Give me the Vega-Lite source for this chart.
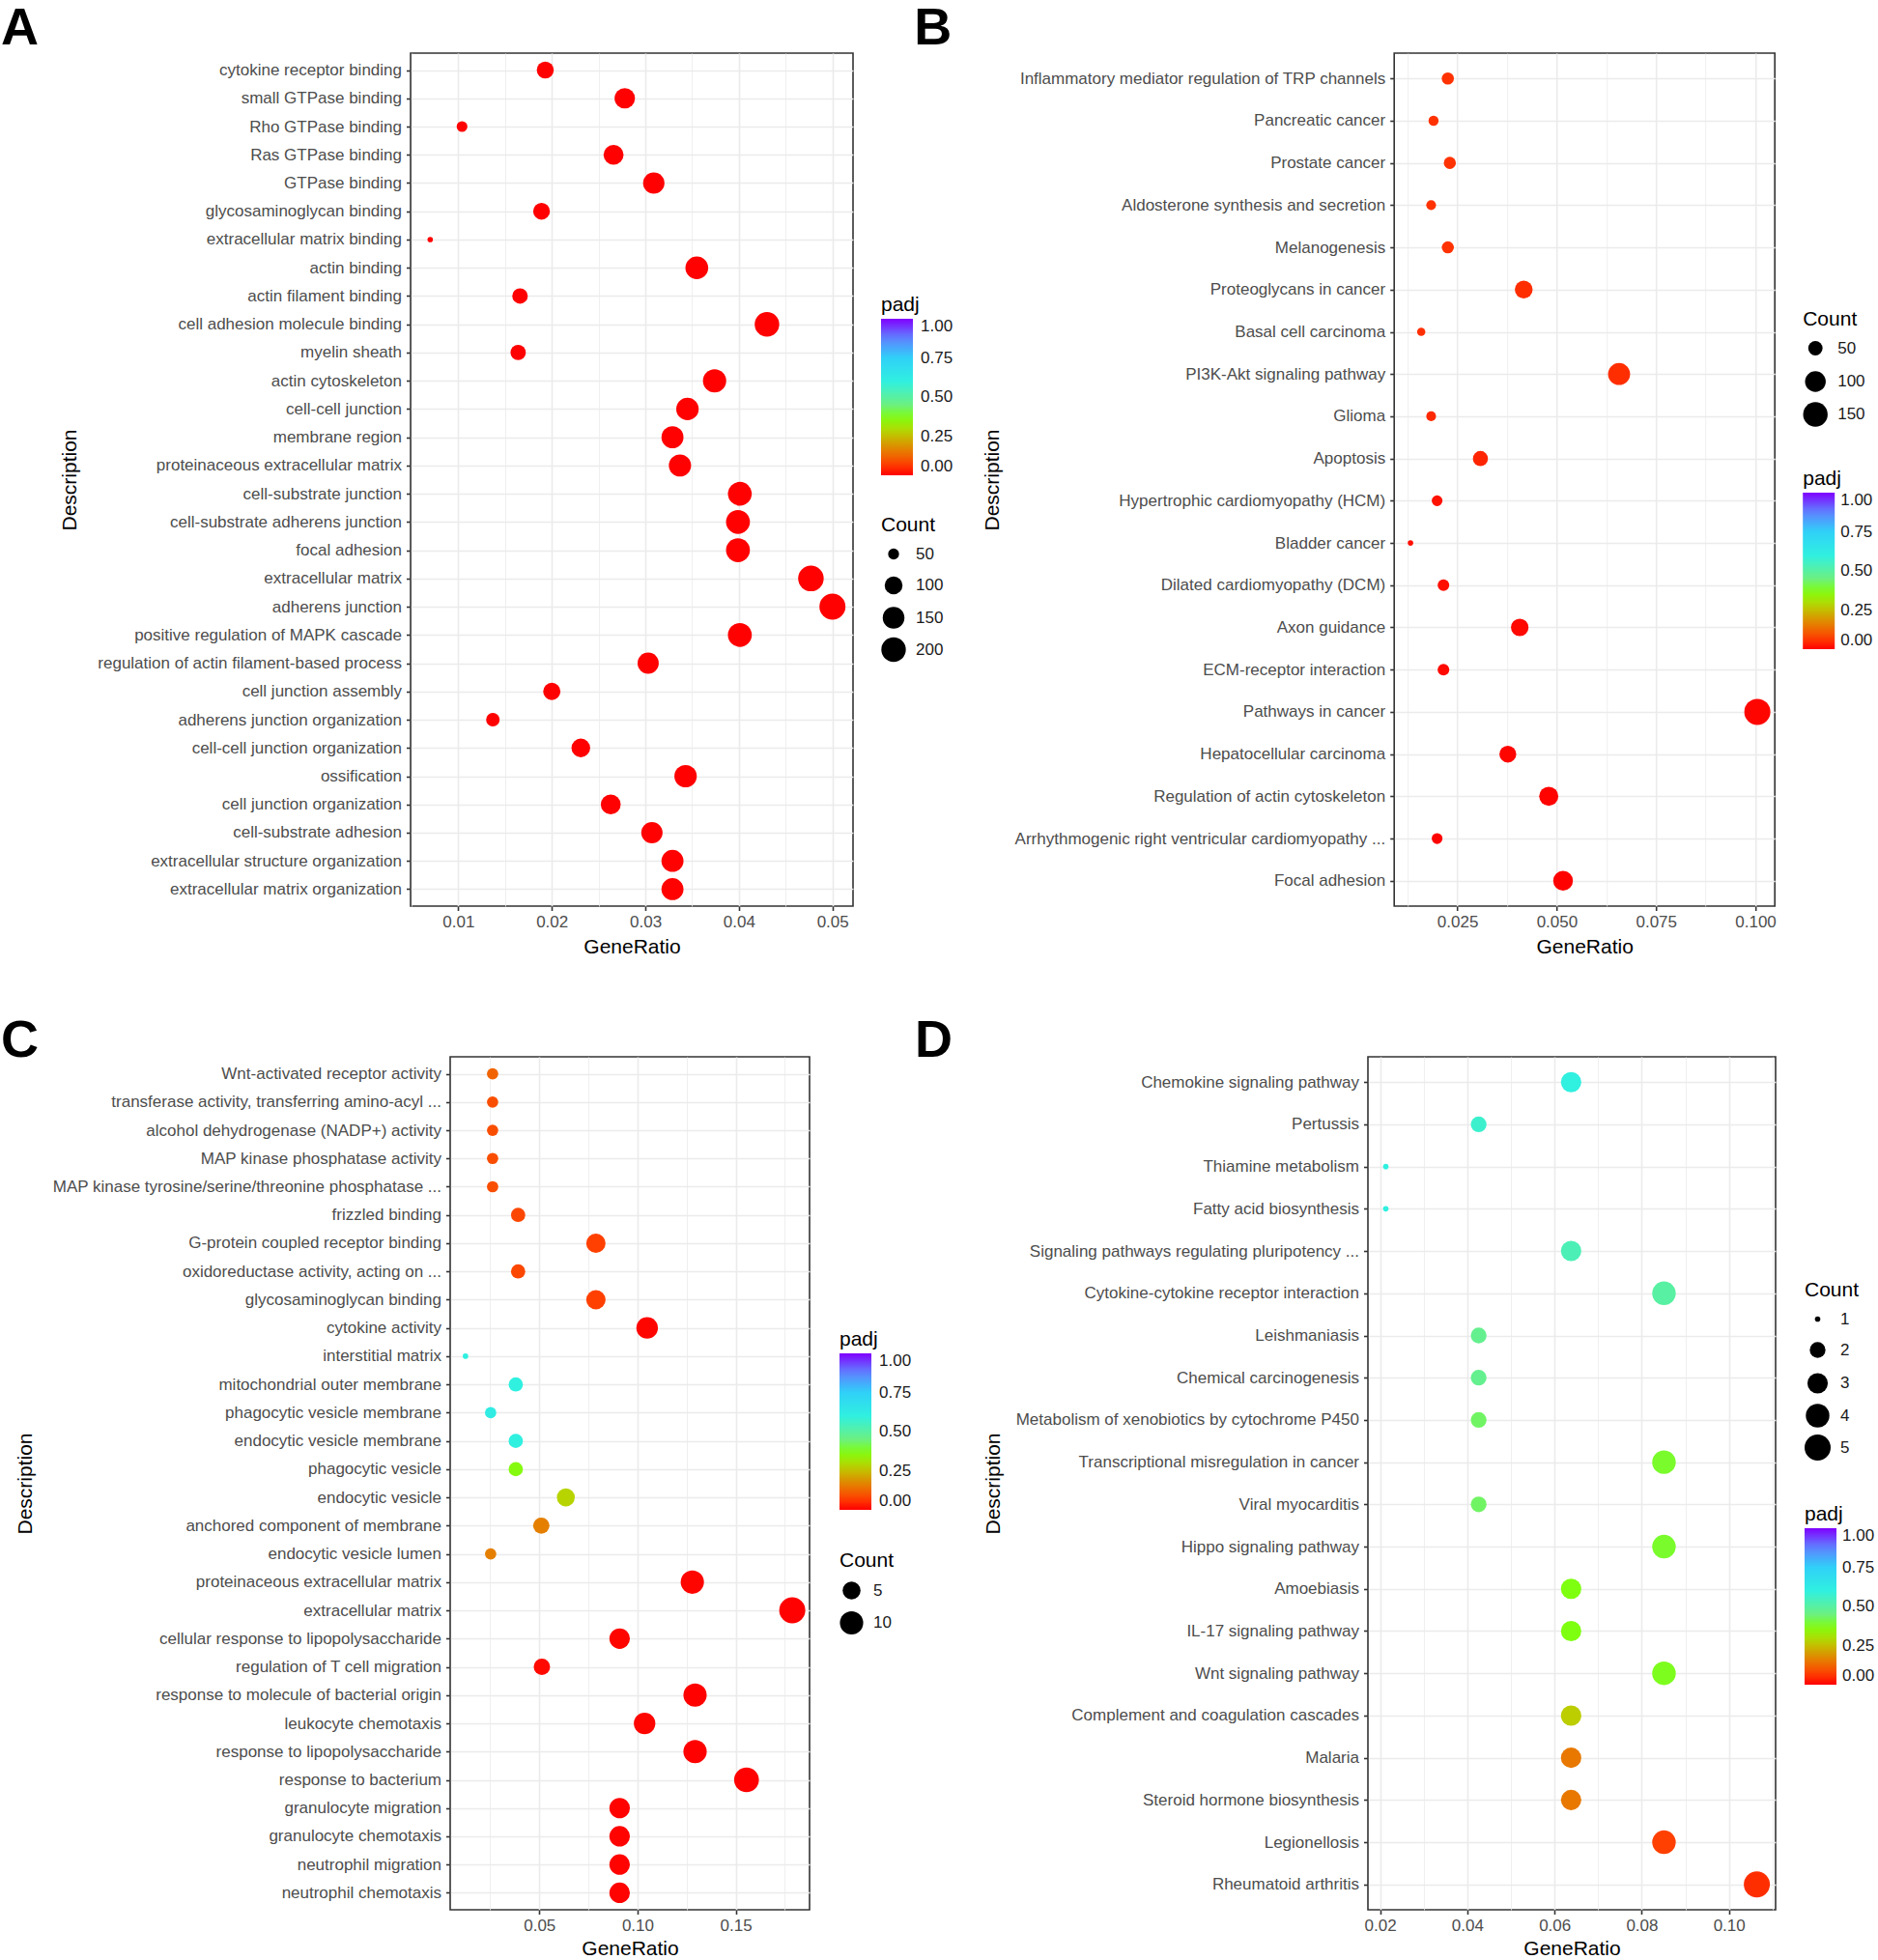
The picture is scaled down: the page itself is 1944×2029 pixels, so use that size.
{
  "$schema": "https://vega.github.io/schema/vega-lite/v6.json",
  "background": "white",
  "padding": {"left": 0, "top": 2, "right": 0, "bottom": 0},
  "config": {
    "font": "Liberation Sans",
    "view": {"stroke": "#333333", "strokeWidth": 1.6},
    "axis": {
      "labelFont": "Liberation Sans", "labelFontSize": 17, "labelColor": "#4D4D4D",
      "titleFont": "Liberation Sans", "titleFontSize": 21, "titleFontWeight": "normal", "titleColor": "#000000",
      "tickColor": "#333333", "tickWidth": 1.6, "tickSize": 4.5,
      "domain": false, "grid": true, "gridColor": "#EBEBEB", "gridWidth": 1.6,
      "labelLimit": 900, "labelOverlap": false, "labelFlush": false
    },
    "axisY": {"labelPadding": 5},
    "axisX": {"labelPadding": 4},
    "legend": {
      "titleFont": "Liberation Sans", "titleFontSize": 21, "titleFontWeight": "normal", "titleColor": "#000000",
      "labelFont": "Liberation Sans", "labelFontSize": 17, "labelColor": "#1A1A1A",
      "padding": 0, "orient": "none", "direction": "vertical"
    },
    "title": {"font": "Liberation Sans", "fontSize": 54, "fontWeight": "bold", "color": "#000000", "anchor": "start", "frame": "group"}
  },
  "datasets": {
    "A": [
      {"Description": "cytokine receptor binding", "GeneRatio": 0.0193, "Count": 91, "padj": 0.001},
      {"Description": "small GTPase binding", "GeneRatio": 0.0278, "Count": 131, "padj": 0.001},
      {"Description": "Rho GTPase binding", "GeneRatio": 0.0104, "Count": 49, "padj": 0.001},
      {"Description": "Ras GTPase binding", "GeneRatio": 0.0266, "Count": 125, "padj": 0.001},
      {"Description": "GTPase binding", "GeneRatio": 0.0309, "Count": 145, "padj": 0.001},
      {"Description": "glycosaminoglycan binding", "GeneRatio": 0.0189, "Count": 89, "padj": 0.001},
      {"Description": "extracellular matrix binding", "GeneRatio": 0.0070, "Count": 33, "padj": 0.001},
      {"Description": "actin binding", "GeneRatio": 0.0355, "Count": 167, "padj": 0.001},
      {"Description": "actin filament binding", "GeneRatio": 0.0166, "Count": 78, "padj": 0.001},
      {"Description": "cell adhesion molecule binding", "GeneRatio": 0.0430, "Count": 202, "padj": 0.001},
      {"Description": "myelin sheath", "GeneRatio": 0.0164, "Count": 77, "padj": 0.001},
      {"Description": "actin cytoskeleton", "GeneRatio": 0.0374, "Count": 176, "padj": 0.001},
      {"Description": "cell-cell junction", "GeneRatio": 0.0345, "Count": 162, "padj": 0.001},
      {"Description": "membrane region", "GeneRatio": 0.0329, "Count": 155, "padj": 0.001},
      {"Description": "proteinaceous extracellular matrix", "GeneRatio": 0.0337, "Count": 158, "padj": 0.001},
      {"Description": "cell-substrate junction", "GeneRatio": 0.0401, "Count": 188, "padj": 0.001},
      {"Description": "cell-substrate adherens junction", "GeneRatio": 0.0399, "Count": 188, "padj": 0.001},
      {"Description": "focal adhesion", "GeneRatio": 0.0399, "Count": 188, "padj": 0.001},
      {"Description": "extracellular matrix", "GeneRatio": 0.0477, "Count": 224, "padj": 0.001},
      {"Description": "adherens junction", "GeneRatio": 0.0500, "Count": 235, "padj": 0.001},
      {"Description": "positive regulation of MAPK cascade", "GeneRatio": 0.0401, "Count": 188, "padj": 0.001},
      {"Description": "regulation of actin filament-based process", "GeneRatio": 0.0303, "Count": 142, "padj": 0.001},
      {"Description": "cell junction assembly", "GeneRatio": 0.0200, "Count": 94, "padj": 0.001},
      {"Description": "adherens junction organization", "GeneRatio": 0.0137, "Count": 64, "padj": 0.001},
      {"Description": "cell-cell junction organization", "GeneRatio": 0.0231, "Count": 109, "padj": 0.001},
      {"Description": "ossification", "GeneRatio": 0.0343, "Count": 161, "padj": 0.001},
      {"Description": "cell junction organization", "GeneRatio": 0.0263, "Count": 124, "padj": 0.001},
      {"Description": "cell-substrate adhesion", "GeneRatio": 0.0307, "Count": 144, "padj": 0.001},
      {"Description": "extracellular structure organization", "GeneRatio": 0.0329, "Count": 155, "padj": 0.001},
      {"Description": "extracellular matrix organization", "GeneRatio": 0.0329, "Count": 155, "padj": 0.001}
    ],
    "B": [
      {"Description": "Inflammatory mediator regulation of TRP channels", "GeneRatio": 0.0226, "Count": 40, "padj": 0.055},
      {"Description": "Pancreatic cancer", "GeneRatio": 0.0190, "Count": 33, "padj": 0.055},
      {"Description": "Prostate cancer", "GeneRatio": 0.0231, "Count": 40, "padj": 0.055},
      {"Description": "Aldosterone synthesis and secretion", "GeneRatio": 0.0184, "Count": 32, "padj": 0.055},
      {"Description": "Melanogenesis", "GeneRatio": 0.0226, "Count": 40, "padj": 0.055},
      {"Description": "Proteoglycans in cancer", "GeneRatio": 0.0417, "Count": 73, "padj": 0.05},
      {"Description": "Basal cell carcinoma", "GeneRatio": 0.0159, "Count": 28, "padj": 0.05},
      {"Description": "PI3K-Akt signaling pathway", "GeneRatio": 0.0657, "Count": 115, "padj": 0.05},
      {"Description": "Glioma", "GeneRatio": 0.0184, "Count": 32, "padj": 0.045},
      {"Description": "Apoptosis", "GeneRatio": 0.0308, "Count": 54, "padj": 0.04},
      {"Description": "Hypertrophic cardiomyopathy (HCM)", "GeneRatio": 0.0199, "Count": 35, "padj": 0.02},
      {"Description": "Bladder cancer", "GeneRatio": 0.0132, "Count": 23, "padj": 0.015},
      {"Description": "Dilated cardiomyopathy (DCM)", "GeneRatio": 0.0215, "Count": 38, "padj": 0.015},
      {"Description": "Axon guidance", "GeneRatio": 0.0407, "Count": 71, "padj": 0.01},
      {"Description": "ECM-receptor interaction", "GeneRatio": 0.0215, "Count": 38, "padj": 0.01},
      {"Description": "Pathways in cancer", "GeneRatio": 0.1005, "Count": 176, "padj": 0.005},
      {"Description": "Hepatocellular carcinoma", "GeneRatio": 0.0377, "Count": 66, "padj": 0.005},
      {"Description": "Regulation of actin cytoskeleton", "GeneRatio": 0.0480, "Count": 84, "padj": 0.003},
      {"Description": "Arrhythmogenic right ventricular cardiomyopathy ...", "GeneRatio": 0.0199, "Count": 35, "padj": 0.003},
      {"Description": "Focal adhesion", "GeneRatio": 0.0516, "Count": 90, "padj": 0.002}
    ],
    "C": [
      {"Description": "Wnt-activated receptor activity", "GeneRatio": 0.0262, "Count": 2, "padj": 0.12},
      {"Description": "transferase activity, transferring amino-acyl ...", "GeneRatio": 0.0262, "Count": 2, "padj": 0.09},
      {"Description": "alcohol dehydrogenase (NADP+) activity", "GeneRatio": 0.0262, "Count": 2, "padj": 0.09},
      {"Description": "MAP kinase phosphatase activity", "GeneRatio": 0.0262, "Count": 2, "padj": 0.09},
      {"Description": "MAP kinase tyrosine/serine/threonine phosphatase ...", "GeneRatio": 0.0262, "Count": 2, "padj": 0.09},
      {"Description": "frizzled binding", "GeneRatio": 0.0392, "Count": 3, "padj": 0.08},
      {"Description": "G-protein coupled receptor binding", "GeneRatio": 0.0788, "Count": 6, "padj": 0.07},
      {"Description": "oxidoreductase activity, acting on ...", "GeneRatio": 0.0392, "Count": 3, "padj": 0.08},
      {"Description": "glycosaminoglycan binding", "GeneRatio": 0.0788, "Count": 6, "padj": 0.07},
      {"Description": "cytokine activity", "GeneRatio": 0.1049, "Count": 8, "padj": 0.005},
      {"Description": "interstitial matrix", "GeneRatio": 0.0124, "Count": 1, "padj": 0.6},
      {"Description": "mitochondrial outer membrane", "GeneRatio": 0.0380, "Count": 3, "padj": 0.6},
      {"Description": "phagocytic vesicle membrane", "GeneRatio": 0.0252, "Count": 2, "padj": 0.62},
      {"Description": "endocytic vesicle membrane", "GeneRatio": 0.0380, "Count": 3, "padj": 0.6},
      {"Description": "phagocytic vesicle", "GeneRatio": 0.0380, "Count": 3, "padj": 0.36},
      {"Description": "endocytic vesicle", "GeneRatio": 0.0635, "Count": 5, "padj": 0.28},
      {"Description": "anchored component of membrane", "GeneRatio": 0.0510, "Count": 4, "padj": 0.16},
      {"Description": "endocytic vesicle lumen", "GeneRatio": 0.0252, "Count": 2, "padj": 0.16},
      {"Description": "proteinaceous extracellular matrix", "GeneRatio": 0.1279, "Count": 10, "padj": 0.005},
      {"Description": "extracellular matrix", "GeneRatio": 0.1788, "Count": 14, "padj": 0.001},
      {"Description": "cellular response to lipopolysaccharide", "GeneRatio": 0.0909, "Count": 7, "padj": 0.005},
      {"Description": "regulation of T cell migration", "GeneRatio": 0.0513, "Count": 4, "padj": 0.01},
      {"Description": "response to molecule of bacterial origin", "GeneRatio": 0.1293, "Count": 10, "padj": 0.002},
      {"Description": "leukocyte chemotaxis", "GeneRatio": 0.1036, "Count": 8, "padj": 0.005},
      {"Description": "response to lipopolysaccharide", "GeneRatio": 0.1293, "Count": 10, "padj": 0.002},
      {"Description": "response to bacterium", "GeneRatio": 0.1555, "Count": 12, "padj": 0.001},
      {"Description": "granulocyte migration", "GeneRatio": 0.0909, "Count": 7, "padj": 0.003},
      {"Description": "granulocyte chemotaxis", "GeneRatio": 0.0909, "Count": 7, "padj": 0.003},
      {"Description": "neutrophil migration", "GeneRatio": 0.0909, "Count": 7, "padj": 0.003},
      {"Description": "neutrophil chemotaxis", "GeneRatio": 0.0909, "Count": 7, "padj": 0.003}
    ],
    "D": [
      {"Description": "Chemokine signaling pathway", "GeneRatio": 0.0638, "Count": 3, "padj": 0.6},
      {"Description": "Pertussis", "GeneRatio": 0.0426, "Count": 2, "padj": 0.57},
      {"Description": "Thiamine metabolism", "GeneRatio": 0.0213, "Count": 1, "padj": 0.6},
      {"Description": "Fatty acid biosynthesis", "GeneRatio": 0.0213, "Count": 1, "padj": 0.6},
      {"Description": "Signaling pathways regulating pluripotency ...", "GeneRatio": 0.0638, "Count": 3, "padj": 0.53},
      {"Description": "Cytokine-cytokine receptor interaction", "GeneRatio": 0.0851, "Count": 4, "padj": 0.5},
      {"Description": "Leishmaniasis", "GeneRatio": 0.0426, "Count": 2, "padj": 0.47},
      {"Description": "Chemical carcinogenesis", "GeneRatio": 0.0426, "Count": 2, "padj": 0.47},
      {"Description": "Metabolism of xenobiotics by cytochrome P450", "GeneRatio": 0.0426, "Count": 2, "padj": 0.43},
      {"Description": "Transcriptional misregulation in cancer", "GeneRatio": 0.0851, "Count": 4, "padj": 0.39},
      {"Description": "Viral myocarditis", "GeneRatio": 0.0426, "Count": 2, "padj": 0.43},
      {"Description": "Hippo signaling pathway", "GeneRatio": 0.0851, "Count": 4, "padj": 0.39},
      {"Description": "Amoebiasis", "GeneRatio": 0.0638, "Count": 3, "padj": 0.37},
      {"Description": "IL-17 signaling pathway", "GeneRatio": 0.0638, "Count": 3, "padj": 0.37},
      {"Description": "Wnt signaling pathway", "GeneRatio": 0.0851, "Count": 4, "padj": 0.38},
      {"Description": "Complement and coagulation cascades", "GeneRatio": 0.0638, "Count": 3, "padj": 0.27},
      {"Description": "Malaria", "GeneRatio": 0.0638, "Count": 3, "padj": 0.15},
      {"Description": "Steroid hormone biosynthesis", "GeneRatio": 0.0638, "Count": 3, "padj": 0.15},
      {"Description": "Legionellosis", "GeneRatio": 0.0851, "Count": 4, "padj": 0.07},
      {"Description": "Rheumatoid arthritis", "GeneRatio": 0.1064, "Count": 5, "padj": 0.05}
    ]
  },
  "spacing": 59,
  "resolve": {"scale": {"color": "independent", "size": "independent"}, "legend": {"color": "independent", "size": "independent"}},
  "vconcat": [
    {
      "spacing": -42.8,
      "resolve": {"scale": {"color": "independent", "size": "independent"}, "legend": {"color": "independent", "size": "independent"}},
      "hconcat": [
        {
          "width": 458, "height": 883,
          "title": {"text": "A", "dx": -424, "offset": -2},
          "data": {"name": "A"},
          "mark": {"type": "circle", "opacity": 1},
          "encoding": {
            "y": {"field": "Description", "type": "nominal", "sort": null, "scale": {"padding": 0.6},
                  "axis": {"title": "Description", "titleX": -353, "titleBaseline": "middle", "grid": true}},
            "x": {"field": "GeneRatio", "type": "quantitative",
                  "scale": {"domain": [0.0049, 0.0522], "nice": false, "zero": false},
                  "axis": {"title": "GeneRatio", "titleY": 42, "titleBaseline": "middle",
                           "values": [0.005, 0.01, 0.015, 0.02, 0.025, 0.03, 0.035, 0.04, 0.045, 0.05],
                           "labelExpr": "indexof([0.01, 0.02, 0.03, 0.04, 0.05], datum.value) >= 0 ? format(datum.value, '.2f') : ''",
                           "gridWidth": {"condition": {"test": "indexof([0.01, 0.02, 0.03, 0.04, 0.05], datum.value) >= 0", "value": 1.6}, "value": 0.8},
                           "tickOpacity": {"condition": {"test": "indexof([0.01, 0.02, 0.03, 0.04, 0.05], datum.value) >= 0", "value": 1}, "value": 0}}},
            "color": {"field": "padj", "type": "quantitative",
                      "scale": {"type": "linear", "domain": [0, 0.07, 0.15, 0.22, 0.28, 0.37, 0.45, 0.52, 0.6, 0.75, 0.88, 1],
                                "range": ["#FF0000", "#FF4000", "#E87800", "#D0A800", "#B8D400", "#7FFF10", "#6CF080", "#50F0B0", "#30F0E0", "#30D0F8", "#6080FF", "#8000FF"],
                                "interpolate": "rgb", "clamp": true},
                      "legend": {"title": "padj", "values": [0, 0.25, 0.5, 0.75, 1], "format": ".2f", "legendX": 487, "legendY": 250,
                                 "gradientLength": 162, "gradientThickness": 33, "gradientStrokeWidth": 0, "titlePadding": 4, "labelOffset": 8, "labelBaseline": "middle"}},
            "size": {"field": "Count", "type": "quantitative",
                     "scale": {"type": "sqrt", "domain": [33, 235], "range": [32, 729], "zero": false},
                     "legend": {"title": "Count", "values": [50, 100, 150, 200], "legendX": 487, "legendY": 478,
                                "symbolType": "circle", "symbolFillColor": "#000000", "symbolStrokeColor": "#000000", "symbolStrokeWidth": 0, "symbolOpacity": 1,
                                "gridAlign": "all", "rowPadding": 5.5, "titlePadding": 11, "labelOffset": 10}}
          }
        },
        {
          "width": 394, "height": 883,
          "title": {"text": "B", "dx": -497, "offset": -2},
          "data": {"name": "B"},
          "mark": {"type": "circle", "opacity": 1},
          "encoding": {
            "y": {"field": "Description", "type": "nominal", "sort": null, "scale": {"padding": 0.6},
                  "axis": {"title": "Description", "titleX": -416, "titleBaseline": "middle", "grid": true}},
            "x": {"field": "GeneRatio", "type": "quantitative",
                  "scale": {"domain": [0.0091, 0.1049], "nice": false, "zero": false},
                  "axis": {"title": "GeneRatio", "titleY": 42, "titleBaseline": "middle",
                           "values": [0.0125, 0.025, 0.0375, 0.05, 0.0625, 0.075, 0.0875, 0.1],
                           "labelExpr": "indexof([0.025, 0.05, 0.075, 0.1], datum.value) >= 0 ? format(datum.value, '.3f') : ''",
                           "gridWidth": {"condition": {"test": "indexof([0.025, 0.05, 0.075, 0.1], datum.value) >= 0", "value": 1.6}, "value": 0.8},
                           "tickOpacity": {"condition": {"test": "indexof([0.025, 0.05, 0.075, 0.1], datum.value) >= 0", "value": 1}, "value": 0}}},
            "color": {"field": "padj", "type": "quantitative",
                      "scale": {"type": "linear", "domain": [0, 0.07, 0.15, 0.22, 0.28, 0.37, 0.45, 0.52, 0.6, 0.75, 0.88, 1],
                                "range": ["#FF0000", "#FF4000", "#E87800", "#D0A800", "#B8D400", "#7FFF10", "#6CF080", "#50F0B0", "#30F0E0", "#30D0F8", "#6080FF", "#8000FF"],
                                "interpolate": "rgb", "clamp": true},
                      "legend": {"title": "padj", "values": [0, 0.25, 0.5, 0.75, 1], "format": ".2f", "legendX": 423, "legendY": 430,
                                 "gradientLength": 162, "gradientThickness": 33, "gradientStrokeWidth": 0, "titlePadding": 4, "labelOffset": 6, "labelBaseline": "middle"}},
            "size": {"field": "Count", "type": "quantitative",
                     "scale": {"type": "sqrt", "domain": [23, 176], "range": [32, 729], "zero": false},
                     "legend": {"title": "Count", "values": [50, 100, 150], "legendX": 423, "legendY": 265,
                                "symbolType": "circle", "symbolFillColor": "#000000", "symbolStrokeColor": "#000000", "symbolStrokeWidth": 0, "symbolOpacity": 1,
                                "gridAlign": "all", "rowPadding": 6, "titlePadding": 11, "labelOffset": 10}}
          }
        }
      ]
    },
    {
      "spacing": 40,
      "bounds": "flush",
      "resolve": {"scale": {"color": "independent", "size": "independent"}, "legend": {"color": "independent", "size": "independent"}},
      "hconcat": [
        {
          "width": 1, "height": 1,
          "view": {"stroke": null},
          "data": {"values": []},
          "mark": {"type": "point", "opacity": 0}
        },
        {
          "spacing": 1,
          "resolve": {"scale": {"color": "independent", "size": "independent"}, "legend": {"color": "independent", "size": "independent"}},
          "hconcat": [
            {
              "width": 372, "height": 883,
              "title": {"text": "C", "dx": -465, "offset": -11},
              "data": {"name": "C"},
              "mark": {"type": "circle", "opacity": 1},
              "encoding": {
                "y": {"field": "Description", "type": "nominal", "sort": null, "scale": {"padding": 0.6},
                      "axis": {"title": "Description", "titleX": -440, "titleBaseline": "middle", "grid": true}},
                "x": {"field": "GeneRatio", "type": "quantitative",
                      "scale": {"domain": [0.0046, 0.1876], "nice": false, "zero": false},
                      "axis": {"title": "GeneRatio", "titleY": 40, "titleBaseline": "middle",
                               "values": [0.025, 0.05, 0.075, 0.1, 0.125, 0.15, 0.175],
                               "labelExpr": "indexof([0.05, 0.1, 0.15], datum.value) >= 0 ? format(datum.value, '.2f') : ''",
                               "gridWidth": {"condition": {"test": "indexof([0.05, 0.1, 0.15], datum.value) >= 0", "value": 1.6}, "value": 0.8},
                               "tickOpacity": {"condition": {"test": "indexof([0.05, 0.1, 0.15], datum.value) >= 0", "value": 1}, "value": 0}}},
                "color": {"field": "padj", "type": "quantitative",
                          "scale": {"type": "linear", "domain": [0, 0.07, 0.15, 0.22, 0.28, 0.37, 0.45, 0.52, 0.6, 0.75, 0.88, 1],
                                    "range": ["#FF0000", "#FF4000", "#E87800", "#D0A800", "#B8D400", "#7FFF10", "#6CF080", "#50F0B0", "#30F0E0", "#30D0F8", "#6080FF", "#8000FF"],
                                    "interpolate": "rgb", "clamp": true},
                          "legend": {"title": "padj", "values": [0, 0.25, 0.5, 0.75, 1], "format": ".2f", "legendX": 403, "legendY": 282,
                                     "gradientLength": 162, "gradientThickness": 33, "gradientStrokeWidth": 0, "titlePadding": 4, "labelOffset": 8, "labelBaseline": "middle"}},
                "size": {"field": "Count", "type": "quantitative",
                         "scale": {"type": "sqrt", "domain": [1, 14], "range": [32, 729], "zero": false},
                         "legend": {"title": "Count", "values": [5, 10], "legendX": 403, "legendY": 511,
                                    "symbolType": "circle", "symbolFillColor": "#000000", "symbolStrokeColor": "#000000", "symbolStrokeWidth": 0, "symbolOpacity": 1,
                                    "gridAlign": "all", "rowPadding": 5.5, "titlePadding": 11, "labelOffset": 10}}
              }
            },
            {
              "width": 422, "height": 883,
              "title": {"text": "D", "dx": -469, "offset": -11},
              "data": {"name": "D"},
              "mark": {"type": "circle", "opacity": 1},
              "encoding": {
                "y": {"field": "Description", "type": "nominal", "sort": null, "scale": {"padding": 0.6},
                      "axis": {"title": "Description", "titleX": -388, "titleBaseline": "middle", "grid": true}},
                "x": {"field": "GeneRatio", "type": "quantitative",
                      "scale": {"domain": [0.0172, 0.1107], "nice": false, "zero": false},
                      "axis": {"title": "GeneRatio", "titleY": 40, "titleBaseline": "middle",
                               "values": [0.02, 0.03, 0.04, 0.05, 0.06, 0.07, 0.08, 0.09, 0.1, 0.11],
                               "labelExpr": "indexof([0.02, 0.04, 0.06, 0.08, 0.1], datum.value) >= 0 ? format(datum.value, '.2f') : ''",
                               "gridWidth": {"condition": {"test": "indexof([0.02, 0.04, 0.06, 0.08, 0.1], datum.value) >= 0", "value": 1.6}, "value": 0.8},
                               "tickOpacity": {"condition": {"test": "indexof([0.02, 0.04, 0.06, 0.08, 0.1], datum.value) >= 0", "value": 1}, "value": 0}}},
                "color": {"field": "padj", "type": "quantitative",
                          "scale": {"type": "linear", "domain": [0, 0.07, 0.15, 0.22, 0.28, 0.37, 0.45, 0.52, 0.6, 0.75, 0.88, 1],
                                    "range": ["#FF0000", "#FF4000", "#E87800", "#D0A800", "#B8D400", "#7FFF10", "#6CF080", "#50F0B0", "#30F0E0", "#30D0F8", "#6080FF", "#8000FF"],
                                    "interpolate": "rgb", "clamp": true},
                          "legend": {"title": "padj", "values": [0, 0.25, 0.5, 0.75, 1], "format": ".2f", "legendX": 452, "legendY": 463,
                                     "gradientLength": 162, "gradientThickness": 33, "gradientStrokeWidth": 0, "titlePadding": 4, "labelOffset": 6, "labelBaseline": "middle"}},
                "size": {"field": "Count", "type": "quantitative",
                         "scale": {"type": "sqrt", "domain": [1, 5], "range": [32, 729], "zero": false},
                         "legend": {"title": "Count", "values": [1, 2, 3, 4, 5], "legendX": 452, "legendY": 231,
                                    "symbolType": "circle", "symbolFillColor": "#000000", "symbolStrokeColor": "#000000", "symbolStrokeWidth": 0, "symbolOpacity": 1,
                                    "gridAlign": "all", "rowPadding": 4, "titlePadding": 11, "labelOffset": 10}}
              }
            }
          ]
        }
      ]
    }
  ]
}
